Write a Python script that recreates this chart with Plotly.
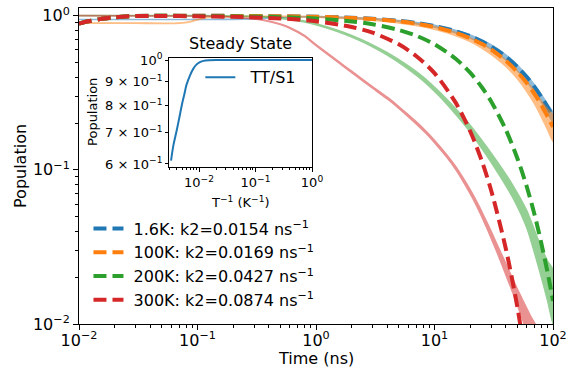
import plotly.graph_objects as go

# ---------------- data ----------------
fit_t = [0.01, 0.012, 0.015, 0.02, 0.025, 0.03, 0.05, 0.1, 0.2, 0.5, 1, 2, 3, 5, 7,
         10, 15, 20, 25, 30, 40, 50, 60, 70, 80, 90, 100]
fit_16K = [0.89, 0.92, 0.95, 0.975, 0.99, 0.995, 1.0, 1.0, 0.997, 0.992, 0.985, 0.970, 0.955,
           0.926, 0.898, 0.858, 0.795, 0.737, 0.682, 0.632, 0.543, 0.466, 0.400, 0.344,
           0.296, 0.256, 0.222]
fit_100K = [0.89, 0.92, 0.95, 0.975, 0.99, 0.995, 1.0, 1.0, 0.997, 0.992, 0.983, 0.967, 0.951,
            0.919, 0.888, 0.845, 0.777, 0.714, 0.657, 0.604, 0.511, 0.432, 0.366, 0.310,
            0.262, 0.222, 0.190]
fit_200K = [0.89, 0.92, 0.95, 0.975, 0.99, 0.995, 0.998, 0.996, 0.992, 0.979, 0.958, 0.918,
            0.880, 0.808, 0.742, 0.653, 0.528, 0.427, 0.345, 0.279, 0.182, 0.119, 0.078,
            0.051, 0.033, 0.0216, 0.0141]
fit_300K = [0.89, 0.92, 0.95, 0.975, 0.99, 0.995, 0.996, 0.991, 0.983, 0.960, 0.920, 0.845,
            0.776, 0.652, 0.548, 0.424, 0.275, 0.178, 0.115, 0.0740, 0.0308, 0.0129,
            0.0053, 0.0022, 0.0009, 0.0004, 0.00017]

data_t = [0.01, 0.03, 0.07, 0.09, 0.12, 0.2, 0.3, 0.5, 0.7, 1, 2, 3, 5, 7, 10, 15, 20, 25,
          30, 40, 50, 60, 70, 80, 90, 100]
data_16K = [0.945, 0.945, 0.945, 0.945, 0.945, 0.948, 0.955, 0.972, 0.982, 0.984, 0.968,
            0.953, 0.924, 0.895, 0.855, 0.790, 0.732, 0.677, 0.627, 0.537, 0.459, 0.393,
            0.337, 0.290, 0.250, 0.218]
noise_16K = [1.003, 1.003, 1.003, 1.003, 1.003, 1.003, 1.003, 1.003, 1.003, 1.004, 1.006,
             1.008, 1.01, 1.012, 1.015, 1.02, 1.025, 1.03, 1.035, 1.04, 1.045, 1.05, 1.055,
             1.06, 1.07, 1.08]
data_100K = [0.895, 0.895, 0.895, 0.92, 0.975, 0.988, 0.99, 0.99, 0.988, 0.982, 0.963,
             0.945, 0.910, 0.877, 0.832, 0.762, 0.698, 0.638, 0.583, 0.492, 0.413, 0.348,
             0.293, 0.247, 0.212, 0.186]
noise_100K = [1.004, 1.004, 1.004, 1.004, 1.004, 1.004, 1.004, 1.005, 1.005, 1.006, 1.01,
              1.012, 1.015, 1.018, 1.02, 1.025, 1.03, 1.035, 1.04, 1.05, 1.06, 1.08, 1.10,
              1.13, 1.17, 1.22]

data_200K_t = [0.01, 0.1, 0.3, 0.5, 0.78, 1, 1.5, 2, 2.86, 4, 5.8, 8, 11, 15, 20, 28, 36,
               46, 60, 75, 90, 100]
data_200K = [1.0, 1.0, 0.99, 0.965, 0.92, 0.88, 0.80, 0.735, 0.65, 0.565, 0.47, 0.39, 0.31,
             0.24, 0.185, 0.130, 0.0975, 0.072, 0.048, 0.029, 0.019, 0.015]
noise_200K = [1.004, 1.004, 1.004, 1.006, 1.008, 1.01, 1.012, 1.014, 1.016, 1.02, 1.025,
              1.03, 1.035, 1.045, 1.055, 1.07, 1.085, 1.1, 1.14, 1.22, 1.35, 1.5]

data_300K_t = [0.01, 0.1, 0.15, 0.2, 0.3, 0.4, 0.5, 0.6, 0.8, 1, 1.5, 2, 2.35, 3, 4, 5,
               5.8, 7, 8.5, 10, 12.7, 15, 18, 21, 24, 28, 33.5, 40, 50, 64, 80]
data_300K = [1.0, 0.995, 0.99, 0.98, 0.955, 0.92, 0.88, 0.835, 0.74, 0.645, 0.510, 0.432,
             0.394, 0.343, 0.292, 0.254, 0.230, 0.202, 0.175, 0.153, 0.123, 0.1035, 0.083,
             0.0676, 0.0553, 0.0429, 0.0313, 0.0227, 0.0150, 0.0094, 0.0061]
noise_300K = [1.004, 1.004, 1.004, 1.004, 1.005, 1.006, 1.007, 1.008, 1.009, 1.01, 1.011,
              1.012, 1.013, 1.014, 1.015, 1.016, 1.017, 1.018, 1.019, 1.02, 1.022, 1.025,
              1.03, 1.035, 1.04, 1.05, 1.065, 1.09, 1.13, 1.22, 1.35]

inset_x = [0.0032, 0.0035, 0.004, 0.0045, 0.005, 0.0055, 0.006, 0.007, 0.008, 0.009,
           0.01, 0.012, 0.015, 0.02, 0.05, 0.1, 0.3, 1.0]
inset_y = [0.61, 0.655, 0.705, 0.755, 0.805, 0.845, 0.885, 0.93, 0.96, 0.978, 0.988, 0.996,
           0.999, 1.0, 1.0, 1.0, 1.0, 1.0]

labels = ["1.6K: k2=0.0154 ns<sup>−1</sup>", "100K: k2=0.0169 ns<sup>−1</sup>",
          "200K: k2=0.0427 ns<sup>−1</sup>", "300K: k2=0.0874 ns<sup>−1</sup>"]
inset_label = "TT/S1"
colors = ["#1f77b4", "#ff7f0e", "#2ca02c", "#d62728"]

main_ticks = [0.01, 0.1, 1, 10, 100]
main_ticktext = ["10<sup>−2</sup>", "10<sup>−1</sup>", "10<sup>0</sup>",
                 "10<sup>1</sup>", "10<sup>2</sup>"]
y_ticks = [0.01, 0.1, 1]
y_ticktext = ["10<sup>−2</sup>", "10<sup>−1</sup>", "10<sup>0</sup>"]
inset_xticks = [0.01, 0.1, 1]
inset_xticktext = ["10<sup>−2</sup>", "10<sup>−1</sup>", "10<sup>0</sup>"]
inset_yticks = [0.6, 0.7, 0.8, 0.9, 1.0]
inset_yticktext = ["6 × 10<sup>−1</sup>", "7 × 10<sup>−1</sup>", "8 × 10<sup>−1</sup>",
                   "9 × 10<sup>−1</sup>", "10<sup>0</sup>"]

NBSP = "\u00a0"


def minors(lo_exp, hi_exp):
    vals = []
    for e in range(lo_exp, hi_exp):
        for m in range(2, 10):
            vals.append(m * 10.0 ** e)
    return vals


def band(t, p, f):
    hi = [a * b for a, b in zip(p, f)]
    lo = [a / b for a, b in zip(p, f)]
    return list(t) + list(t)[::-1], hi + lo[::-1]


FONT = "DejaVu Sans"
fig = go.Figure()

series = [
    (data_t, data_16K, noise_16K, fit_16K),
    (data_t, data_100K, noise_100K, fit_100K),
    (data_200K_t, data_200K, noise_200K, fit_200K),
    (data_300K_t, data_300K, noise_300K, fit_300K),
]
for (dt, dp, nf, fp), col, lab in zip(series, colors, labels):
    bx, by = band(dt, dp, nf)
    fig.add_trace(go.Scatter(x=bx, y=by, mode="lines", fill="toself", fillcolor=col,
                             line=dict(color=col, width=1.3, shape="spline", smoothing=0.6),
                             opacity=0.5, showlegend=False, hoverinfo="skip"))
    fig.add_trace(go.Scatter(x=fit_t, y=fp, mode="lines", name=NBSP + lab,
                             line=dict(color=col, width=4, dash="13px,6px",
                                       shape="spline", smoothing=0.8),
                             legend="legend"))

fig.add_trace(go.Scatter(x=inset_x, y=inset_y, mode="lines", name=NBSP * 2 + inset_label,
                         line=dict(color="#1f77b4", width=2, shape="spline", smoothing=0.8),
                         xaxis="x2", yaxis="y2", legend="legend2"))

axis_common = dict(showline=True, linecolor="black", linewidth=1, mirror=True,
                   ticks="outside", tickcolor="black", tickwidth=1, showgrid=False,
                   zeroline=False, type="log", automargin=False,
                   ticklabeloverflow="allow")

fig.update_layout(
    width=566, height=374, autosize=False,
    margin=dict(l=79, r=13, t=8, b=50),
    paper_bgcolor="white", plot_bgcolor="white",
    font=dict(family=FONT, size=16, color="black"),
    xaxis=dict(axis_common, range=[-2, 2], domain=[0, 1], ticklen=5,
               tickmode="array", tickvals=main_ticks, ticktext=main_ticktext,
               tickfont=dict(size=16), ticklabelstandoff=-3,
               minor=dict(tickmode="array", tickvals=minors(-2, 2), ticks="outside",
                          ticklen=3, tickcolor="black", showgrid=False)),
    yaxis=dict(axis_common, range=[-2, 0.05], domain=[0, 1], ticklen=5,
               tickmode="array", tickvals=y_ticks, ticktext=y_ticktext,
               tickfont=dict(size=16),
               minor=dict(tickmode="array", tickvals=minors(-2, 0), ticks="outside",
                          ticklen=3, tickcolor="black", showgrid=False)),
    xaxis2=dict(axis_common, range=[-2.53, 0], domain=[0.190, 0.4916], anchor="y2",
                ticklen=4, tickmode="array", tickvals=inset_xticks,
                ticktext=inset_xticktext, tickfont=dict(size=13),
                minor=dict(tickmode="array", tickvals=minors(-3, 0), ticks="outside",
                           ticklen=2, tickcolor="black", showgrid=False)),
    yaxis2=dict(axis_common, range=[-0.2276, 0.005], domain=[0.4978, 0.8427],
                anchor="x2", ticklen=3, tickmode="array", tickvals=inset_yticks,
                ticktext=inset_yticktext, tickfont=dict(size=13)),
    legend=dict(x=0.02, y=0.356, xanchor="left", yanchor="top",
                bgcolor="rgba(0,0,0,0)", font=dict(size=16), tracegroupgap=0),
    legend2=dict(x=0.256, y=0.8345, xanchor="left", yanchor="top",
                 bgcolor="rgba(0,0,0,0)", font=dict(size=16)),
    annotations=[
        dict(text="Steady State", x=0.3397, y=0.889, xref="paper", yref="paper",
             showarrow=False, font=dict(size=16), xanchor="center", yanchor="middle"),
        dict(text="T<sup>−1</sup> (K<sup>−1</sup>)", x=0.3407, y=0.386, xref="paper",
             yref="paper", showarrow=False, font=dict(size=13), xanchor="center",
             yanchor="middle"),
        dict(text="Population", x=0.0295, y=0.671, xref="paper", yref="paper",
             showarrow=False, font=dict(size=13), textangle=-90, xanchor="center",
             yanchor="middle"),
        dict(text="Population", x=-0.1245, y=0.5, xref="paper", yref="paper",
             showarrow=False, font=dict(size=16), textangle=-90, xanchor="center",
             yanchor="middle"),
        dict(text="Time (ns)", x=0.5, y=-0.108, xref="paper", yref="paper",
             showarrow=False, font=dict(size=16), xanchor="center", yanchor="middle"),
    ],
)

fig.write_html(
    "out.html",
    config={"displayModeBar": False},
    post_script="document.body.style.margin='0';document.body.style.padding='0';"
                "document.body.style.overflow='hidden';"
                "document.documentElement.style.overflow='hidden';",
)
